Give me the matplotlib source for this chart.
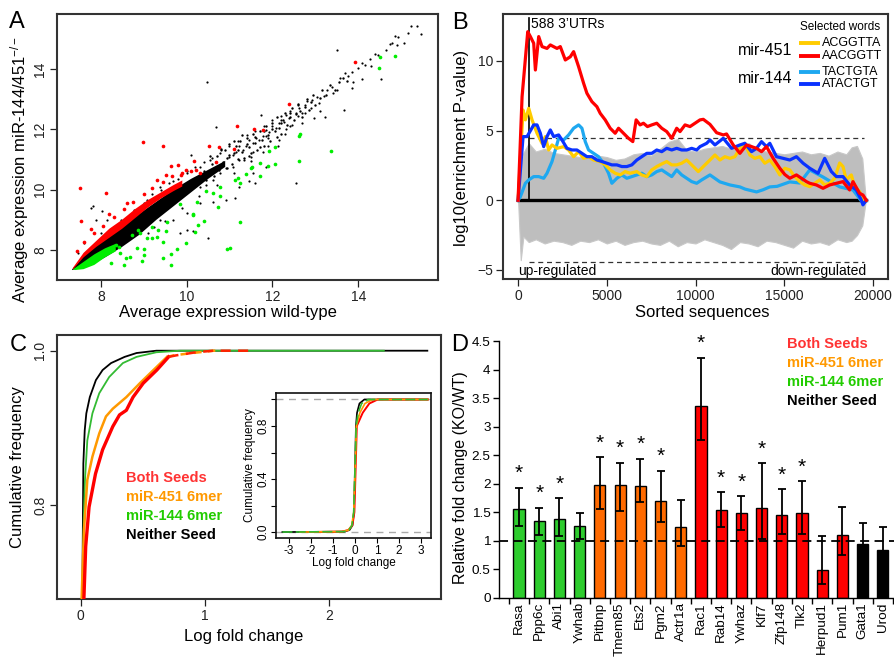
import matplotlib
matplotlib.use('Agg')
import matplotlib.pyplot as plt
import numpy as np

plt.rcParams['font.family'] = ['Liberation Sans', 'DejaVu Sans']
plt.rcParams['mathtext.fontset'] = 'custom'
plt.rcParams['mathtext.rm'] = 'Liberation Sans'
plt.rcParams['mathtext.it'] = 'Liberation Sans:italic'

W, H = 895, 661

# ---------------- Panel A data ----------------
black_core_x = [7.33, 7.7, 8.1, 8.5, 8.9, 9.3, 9.7, 10.1, 10.5, 10.9,
                10.9, 10.5, 10.1, 9.7, 9.3, 8.9, 8.5, 8.1, 7.7, 7.33]
black_core_y = [7.35, 7.95, 8.4, 8.8, 9.2, 9.6, 10.0, 10.35, 10.65, 10.95,
                10.75, 10.35, 9.9, 9.45, 9.0, 8.5, 8.1, 7.75, 7.45, 7.33]
red_core_x = [7.35, 7.6, 7.9, 8.2, 8.5, 8.8, 9.1, 9.4, 9.7, 9.9,
              9.9, 9.7, 9.4, 9.1, 8.8, 8.5, 8.2, 7.9, 7.6, 7.35]
red_core_y = [7.4, 7.9, 8.3, 8.7, 9.0, 9.35, 9.65, 9.9, 10.15, 10.3,
              10.1, 9.95, 9.7, 9.4, 9.05, 8.7, 8.4, 8.1, 7.75, 7.35]
green_core_x = [7.35, 7.6, 7.85, 8.1, 8.35, 8.35, 8.1, 7.85, 7.6, 7.4]
green_core_y = [7.35, 7.6, 7.85, 8.05, 8.2, 7.95, 7.75, 7.5, 7.36, 7.33]

black_pts_x = [15.38, 15.46, 15.22, 15.15, 15.06, 14.92, 14.85, 14.73, 14.78, 14.64, 14.54, 14.46,
               14.27, 14.15, 14.08, 14.0, 13.85, 13.77, 13.69, 13.5, 13.58, 13.38, 13.27, 13.85,
               13.67, 14.1, 13.23, 13.04, 12.92, 12.96, 12.77, 12.62, 12.69, 12.54, 12.38, 12.31,
               12.27, 12.15, 12.08, 12.0, 11.92, 11.85, 11.77, 11.73, 11.69, 11.62, 11.54, 11.46,
               11.38, 11.31, 11.23, 11.15, 11.08, 11.0, 10.68, 10.48, 12.12, 11.6, 11.12, 12.55,
               10.5, 10.11, 7.81, 8.02, 10.15, 12.15, 11.77, 11.5, 11.35, 10.92, 10.77, 10.62,
               10.46, 10.31, 11.08, 11.23, 11.54, 11.85, 12.31, 12.46, 12.77, 13.08, 13.42, 13.88,
               14.31, 10.77, 10.54, 10.31, 10.0, 9.69, 9.38, 9.08, 8.77, 8.46, 8.0, 7.62, 7.46,
               7.77, 8.15, 7.88, 10.31, 10.62, 10.0, 9.69, 9.38, 9.23, 10.0, 9.85, 10.92, 11.23,
               11.54, 11.85, 11.46, 12.2, 12.4, 12.9, 13.2, 13.5, 14.4, 14.9, 11.9, 12.6,
               9.0, 9.2, 9.4, 9.6, 9.8, 10.0, 10.2, 10.4, 10.6, 10.8, 11.0, 11.2, 11.4, 11.6,
               11.8, 12.0, 12.2, 12.4, 12.6, 12.8, 9.1, 9.5, 9.9, 10.3, 10.7, 11.1, 11.5, 11.9,
               12.3, 12.7, 13.1]
black_pts_y = [15.43, 15.15, 15.43, 15.18, 14.85, 15.07, 15.09, 14.82, 14.85, 14.63, 13.67, 14.46,
               14.32, 14.13, 14.19, 14.02, 13.91, 13.75, 13.86, 14.63, 13.69, 13.41, 13.3, 13.36,
               12.64, 13.67, 12.39, 13.08, 12.97, 12.36, 12.81, 12.7, 12.53, 12.53, 12.36, 12.48,
               12.25, 12.2, 12.03, 12.11, 11.92, 11.98, 11.76, 12.48, 11.65, 11.7, 11.54, 11.65,
               11.43, 11.31, 11.43, 11.26, 11.15, 11.09, 12.06, 13.58, 11.45, 10.23, 9.71, 10.21,
               8.38, 11.15, 9.44, 9.3, 8.61, 11.65, 11.26, 11.09, 10.98, 10.71, 10.54, 10.32,
               10.15, 10.1, 10.76, 10.98, 11.26, 11.76, 12.0, 12.14, 12.53, 12.86, 13.19, 13.58,
               14.08, 11.2, 10.98, 10.76, 10.54, 10.27, 10.1, 9.66, 9.33, 9.0, 8.55, 8.22, 7.89,
               9.38, 8.99, 8.99, 9.55, 9.6, 9.22, 8.99, 8.99, 8.77, 8.66, 8.55, 9.66, 10.1,
               10.54, 10.76, 10.27, 12.3, 12.1, 12.7, 13.1, 13.3, 14.5, 14.8, 11.7, 12.45,
               9.55, 9.85, 10.0, 10.2, 10.35, 10.6, 10.75, 10.9, 11.05, 11.3, 11.45, 11.6, 11.8,
               11.95, 12.1, 12.3, 12.45, 12.6, 12.8, 12.95, 8.55, 8.95, 9.4, 9.8, 10.15, 10.55,
               10.95, 11.45, 11.85, 12.2, 12.6]
black_band = [(10.85, 10.9), (10.9, 11.3), (10.95, 11.05), (11.0, 11.5), (11.05, 10.85),
              (11.1, 11.2), (11.15, 11.45), (11.2, 11.0), (11.25, 11.6), (11.3, 11.25),
              (11.35, 11.05), (11.4, 11.7), (11.45, 11.4), (11.5, 11.2), (11.55, 11.85),
              (11.6, 11.55), (11.65, 11.3), (11.7, 11.95), (11.75, 11.65), (11.8, 11.45),
              (11.85, 12.1), (11.9, 11.8), (11.95, 11.6), (12.0, 12.2), (12.05, 11.95),
              (12.1, 12.4), (12.15, 12.05), (12.2, 11.85), (12.25, 12.3), (12.3, 12.55),
              (12.35, 12.15), (12.4, 12.4), (12.45, 12.7), (12.5, 12.3), (12.55, 12.5),
              (12.6, 12.85), (12.65, 12.6), (12.7, 12.4), (12.75, 12.75), (12.8, 13.0),
              (12.85, 12.65), (12.9, 12.9), (12.95, 13.15), (13.0, 12.8), (13.1, 13.05),
              (13.15, 13.3), (13.25, 13.15), (13.35, 13.45), (13.45, 13.3), (13.55, 13.55),
              (13.65, 13.7), (13.75, 13.6), (10.7, 11.1), (10.75, 10.65), (10.8, 11.35),
              (10.6, 10.85), (10.65, 10.45), (10.55, 11.1), (10.4, 10.6), (10.45, 10.3),
              (11.0, 11.15), (11.2, 11.3), (11.4, 11.5), (11.6, 11.75), (11.8, 11.95),
              (12.0, 12.0), (12.2, 12.2), (12.4, 12.55), (11.1, 11.6), (11.3, 11.8),
              (10.95, 10.7), (11.45, 11.1), (11.7, 11.4), (12.1, 11.75)]

red_pts_x = [7.52, 7.54, 7.77, 8.12, 8.98, 9.45, 9.51, 9.63, 9.80, 9.98, 10.18, 10.52, 10.75,
             10.69, 11.18, 11.11, 11.56, 11.78, 12.38, 13.92, 10.31, 10.23, 9.88,
             7.45, 7.6, 7.85, 8.05, 8.3, 8.55, 8.75, 9.0, 9.2, 9.45, 9.65, 9.9, 10.1, 8.2, 8.6, 9.3]
red_pts_y = [10.04, 8.94, 8.70, 9.90, 11.59, 11.45, 10.49, 10.78, 10.81, 10.64, 10.94, 11.45, 11.41,
             10.90, 12.09, 11.36, 12.01, 11.97, 12.84, 14.24, 10.54, 10.65, 10.49,
             7.95, 8.25, 8.55, 8.8, 9.1, 9.35, 9.6, 9.85, 10.05, 10.25, 10.45, 10.55, 10.6, 9.2, 9.55, 10.3]

green_pts_x = [14.85, 14.5, 14.48, 12.65, 12.62, 13.37, 12.62, 12.06, 11.91, 12.05, 11.89, 11.72,
               11.72, 11.52, 11.38, 11.5, 11.25, 11.2, 11.13, 11.25, 11.02, 10.95, 10.79, 10.79,
               10.62, 10.46, 10.73, 10.4, 10.27, 10.19, 10.14, 10.14, 10.25, 9.98, 9.85, 9.78,
               9.64, 9.64, 9.44, 9.54, 9.52, 9.33, 9.19, 9.45, 9.19, 9.0, 9.0, 8.96, 8.85, 8.87,
               8.69, 8.58, 8.54, 8.45, 8.42, 8.35, 8.23, 8.92, 9.08, 8.73, 9.31]
green_pts_y = [14.43, 14.39, 14.02, 11.85, 11.78, 11.28, 10.93, 11.41, 11.28, 10.84, 10.78, 10.87,
               10.44, 10.76, 10.51, 10.73, 10.21, 10.38, 10.32, 8.92, 8.06, 8.03, 10.07, 9.77,
               9.88, 9.96, 9.41, 8.97, 8.83, 8.59, 9.16, 9.2, 9.59, 8.22, 9.52, 8.03,
               7.87, 7.5, 7.72, 8.91, 8.61, 8.66, 8.77, 8.25, 8.39, 8.02, 7.83, 7.64, 8.06, 8.66,
               7.75, 7.72, 7.5, 7.89, 8.11, 8.17, 7.56, 8.55, 8.39, 8.5, 8.42]

# ---------------- Panel B data ----------------
gray_x = [0, 150, 300, 600, 1000, 1500, 2000, 2500, 3000, 3500, 4000, 4500, 5000, 5500, 6000,
          6500, 7000, 7500, 8000, 8500, 9000, 9500, 10000, 10500, 11000, 11500, 12000, 12500,
          13000, 13500, 14000, 14500, 15000, 15500, 16000, 16500, 17000, 17500, 18000, 18500,
          18800, 19100, 19400, 19600]
gray_hi = [0, 2.6, 3.4, 4.1, 3.5, 3.7, 3.4, 3.3, 3.2, 3.1, 3.0, 3.2, 3.1, 2.9, 3.0, 3.3, 3.4,
           3.2, 3.7, 4.2, 4.4, 3.6, 3.5, 3.7, 3.8, 3.9, 3.7, 3.9, 4.1, 3.6, 3.5, 3.4, 3.3, 3.4,
           3.5, 3.3, 3.4, 3.2, 3.5, 3.3, 3.8, 3.9, 3.0, 0]
gray_lo = [0, -4.3, -2.6, -3.0, -2.8, -3.1, -2.9, -3.0, -3.2, -2.9, -3.0, -2.8, -3.1, -2.9, -3.2,
           -3.0, -2.9, -3.1, -3.2, -2.9, -3.3, -3.0, -3.1, -2.8, -3.0, -3.2, -3.5, -3.0, -3.1,
           -3.3, -2.9, -3.0, -3.2, -3.4, -2.9, -3.1, -3.0, -3.2, -2.8, -3.0, -2.9, -2.5, -1.8, 0]

aacggtt = [(0, 0), (225, 7.44), (544, 12.1), (693, 11.75), (880, 11.27), (975, 9.35), (1162, 11.75),
           (1350, 11.03), (1630, 10.9), (1818, 11.15), (2193, 10.9), (2380, 11.03), (2662, 10.07),
           (2943, 10.3), (3130, 10.67), (3411, 9.59), (3693, 8.4), (3880, 7.68), (4161, 7.08),
           (4442, 6.72), (4630, 6.24), (4911, 5.77), (5192, 5.17), (5473, 4.81), (5661, 5.17),
           (5942, 4.81), (6223, 4.45), (6467, 4.21), (6654, 5.77), (6879, 5.41), (7066, 5.53),
           (7291, 5.29), (7535, 5.41), (7816, 5.53), (8098, 5.17), (8379, 4.93), (8660, 4.45),
           (8941, 5.17), (9128, 4.93), (9410, 5.41), (9691, 5.29), (9972, 5.53), (10253, 5.77),
           (10440, 5.81), (10815, 5.45), (11190, 4.85), (11565, 4.69), (11752, 4.76), (12127, 3.97),
           (12502, 3.37), (12877, 3.97), (13158, 3.85), (13440, 3.73), (13721, 3.49), (14002, 3.85),
           (14377, 3.01), (14752, 2.30), (15033, 1.85), (15314, 1.58), (15689, 1.82), (15970, 1.58),
           (16251, 1.34), (16439, 1.22), (16814, 1.10), (17188, 0.86), (17563, 1.10), (17938, 1.22),
           (18313, 1.34), (18688, 0.74), (18876, 1.34), (19250, 0.50), (19438, 0.38), (19625, 0.0)]
acggtta = [(0, 0), (281, 6.48), (412, 5.77), (600, 6.6), (787, 5.77), (1068, 4.81), (1350, 4.09),
           (1537, 4.57), (1724, 3.61), (1912, 3.97), (2193, 3.73), (2568, 3.85), (2849, 3.61),
           (3130, 3.13), (3411, 3.49), (3693, 3.01), (3974, 3.13), (4255, 2.89), (4630, 2.78),
           (4911, 2.54), (5192, 2.18), (5473, 1.94), (5754, 1.82), (6036, 2.06), (6317, 1.94),
           (6692, 2.06), (6973, 1.82), (7254, 1.70), (7535, 2.18), (7816, 2.42), (8098, 2.61),
           (8379, 2.78), (8660, 2.54), (8941, 2.54), (9222, 2.66), (9503, 2.89), (9878, 2.42),
           (10159, 2.06), (10440, 2.42), (10815, 2.89), (11096, 3.25), (11377, 2.89), (11659, 3.13),
           (11940, 3.01), (12221, 3.13), (12502, 3.73), (12783, 4.09), (13064, 3.25), (13346, 3.01),
           (13627, 3.13), (13908, 2.66), (14189, 2.89), (14471, 2.42), (14752, 1.82), (15033, 2.30),
           (15314, 2.18), (15595, 1.70), (15877, 1.34), (16158, 1.10), (16439, 0.98), (16720, 1.22),
           (17001, 1.46), (17282, 1.10), (17564, 1.22), (17845, 1.58), (18126, 2.68), (18313, 2.42),
           (18501, 1.46), (18782, 1.82), (18969, 0.98), (19250, 0.62), (19438, 0.02), (19625, 0.0)]
tactgta = [(0, 0), (131, 0.26), (412, 1.22), (600, 1.46), (880, 1.70), (1162, 1.70), (1443, 1.58),
           (1630, 1.94), (1912, 2.78), (2099, 3.61), (2287, 4.45), (2568, 4.33), (2849, 4.69),
           (3130, 5.17), (3411, 5.41), (3599, 5.17), (3786, 4.21), (3974, 3.61), (4255, 3.37),
           (4536, 3.13), (4817, 2.66), (5098, 1.94), (5286, 1.22), (5567, 1.58), (5848, 1.82),
           (6129, 1.58), (6410, 1.70), (6692, 1.82), (6973, 1.94), (7254, 1.70), (7535, 1.82),
           (7816, 2.06), (8098, 2.18), (8379, 1.94), (8660, 1.70), (8941, 2.18), (9222, 1.82),
           (9503, 1.58), (9785, 1.34), (10066, 1.22), (10347, 1.46), (10815, 1.82), (11377, 1.32),
           (11940, 1.10), (12502, 0.96), (12800, 0.80), (13440, 0.60), (13800, 0.75), (14189, 0.96),
           (14600, 1.00), (15314, 1.32), (15877, 1.24), (16439, 2.18), (17188, 1.67), (18126, 0.96),
           (18876, 0.74), (19438, -0.2), (19625, 0.0)]
atactgt = [(0, 0), (281, 4.57), (506, 4.57), (880, 5.41), (1068, 5.41), (1256, 4.81), (1443, 3.85),
           (1630, 4.57), (1818, 5.05), (2006, 4.57), (2287, 4.69), (2474, 4.33), (2755, 3.73),
           (3037, 3.61), (3318, 3.61), (3599, 3.37), (3880, 3.13), (4161, 3.13), (4442, 2.89),
           (4724, 2.78), (5005, 2.66), (5286, 2.54), (5567, 2.54), (5848, 2.42), (6129, 2.42),
           (6410, 2.54), (6692, 2.89), (6973, 3.13), (7254, 3.37), (7535, 3.37), (7816, 3.61),
           (8098, 3.49), (8379, 3.73), (8660, 3.61), (8941, 3.73), (9222, 3.61), (9503, 3.61),
           (9785, 3.73), (10066, 3.61), (10253, 3.85), (10628, 4.09), (10815, 4.33), (11096, 3.97),
           (11565, 4.45), (12033, 3.73), (12502, 3.97), (12783, 4.09), (13158, 3.49), (13440, 3.73),
           (13721, 4.21), (14002, 3.85), (14189, 4.09), (14564, 3.13), (14939, 3.01), (15314, 2.89),
           (15689, 3.13), (16064, 2.66), (16439, 2.30), (16907, 1.94), (17282, 3.01), (17657, 2.06),
           (17938, 1.70), (18313, 1.70), (18688, 1.10), (19063, 0.74), (19344, 0.02), (19438, -0.33),
           (19625, 0.0)]
word_labels = ['ACGGTTA', 'AACGGTT', 'TACTGTA', 'ATACTGT']
word_colors = ['#FFCC00', '#FF0000', '#1EA8F0', '#0A32FF']
n_utrs = 588
thresh = 4.45

# ---------------- Panel C data ----------------
neither_x = [0.012, 0.014, 0.022, 0.033, 0.046, 0.074, 0.123, 0.177, 0.245, 0.354, 0.45, 0.61, 2.79]
neither_y = [0.67, 0.682, 0.854, 0.897, 0.919, 0.94, 0.962, 0.975, 0.984, 0.992, 0.997, 1.0, 1.0]
mir144_x = [0.014, 0.016, 0.025, 0.035, 0.054, 0.095, 0.15, 0.23, 0.34, 0.45, 0.61, 0.8, 2.44]
mir144_y = [0.67, 0.69, 0.78, 0.833, 0.884, 0.919, 0.945, 0.966, 0.984, 0.992, 0.998, 1.0, 1.0]
mir451_x = [0.006, 0.027, 0.054, 0.095, 0.15, 0.204, 0.259, 0.368, 0.477, 0.586, 0.695]
mir451_y = [0.67, 0.768, 0.833, 0.863, 0.893, 0.915, 0.925, 0.94, 0.958, 0.975, 0.992]
mir451_tail_x = [0.695, 0.75, 0.9, 1.07, 1.12]
mir451_tail_y = [0.992, 0.994, 0.997, 1.0, 1.0]
both_x = [0.024, 0.027, 0.041, 0.068, 0.12, 0.177, 0.259, 0.313, 0.368, 0.422, 0.504, 0.613, 0.708]
both_y = [0.67, 0.682, 0.747, 0.798, 0.841, 0.872, 0.902, 0.917, 0.923, 0.94, 0.958, 0.975, 0.992]
both_tail_x = [0.708, 0.77, 0.93, 1.07, 1.36]
both_tail_y = [0.992, 0.994, 0.998, 1.0, 1.0]

inset_neither_x = [-3.3, -0.5, -0.25, -0.12, -0.05, 0.0, 0.04, 0.09, 0.2, 0.42, 3.3]
inset_144_x = [-3.3, -0.5, -0.28, -0.14, -0.06, 0.0, 0.05, 0.14, 0.3, 0.6, 3.3]
inset_451_x = [-2.5, -0.6, -0.3, -0.15, -0.06, 0.01, 0.06, 0.22, 0.45, 0.8, 3.3]
inset_both_x = [-2.0, -0.6, -0.3, -0.12, -0.03, 0.03, 0.08, 0.35, 0.65, 1.03, 3.3]
inset_y = [0.0, 0.003, 0.015, 0.05, 0.15, 0.5, 0.8, 0.9, 0.97, 1.0, 1.0]
inset_xticks = [-3, -2, -1, 0, 1, 2, 3]
inset_xticklabels = ['-3', '-2', '-1', '0', '1', '2', '3']

group_names = ['Both Seeds', 'miR-451 6mer', 'miR-144 6mer', 'Neither Seed']
group_text_colors = ['#FF3333', '#FF9900', '#22CC00', '#000000']

# ---------------- Panel D data ----------------
genes = ['Rasa', 'Ppp6c', 'Abi1', 'Ywhab', 'Pitbnp', 'Tmem85', 'Ets2', 'Pgm2', 'Actr1a', 'Rac1',
         'Rab14', 'Ywhaz', 'Klf7', 'Zfp148', 'Tlk2', 'Herpud1', 'Pum1', 'Gata1', 'Urod']
fold = [1.566, 1.34, 1.385, 1.26, 1.98, 1.97, 1.96, 1.70, 1.25, 3.37,
        1.54, 1.49, 1.57, 1.46, 1.48, 0.495, 1.106, 0.95, 0.84]
err_hi = [1.93, 1.58, 1.75, 1.48, 2.47, 2.37, 2.44, 2.23, 1.71, 4.21,
          1.85, 1.78, 2.36, 1.90, 2.04, 1.09, 1.60, 1.32, 1.24]
err_lo = [1.26, 1.10, 1.08, 1.04, 1.56, 1.52, 1.68, 1.33, 0.91, 2.76,
          1.24, 1.19, 1.04, 1.12, 1.12, 0.24, 0.76, 0.63, 0.51]
seed_group = ['144'] * 4 + ['451'] * 5 + ['both'] * 8 + ['neither'] * 2
significant = [1, 1, 1, 0, 1, 1, 1, 1, 0, 1, 1, 1, 1, 1, 1, 0, 0, 0, 0]
bar_colors = {'144': '#2ECC2E', '451': '#FF6A00', 'both': '#FF0000', 'neither': '#000000'}

# =====================================================================
fig = plt.figure(figsize=(W / 100, H / 100), dpi=100)


def rect(l, t, r, b):
    return [l / W, 1 - b / H, (r - l) / W, (b - t) / H]


def box_style(ax, lw=1.5, color='#333333'):
    for s in ax.spines.values():
        s.set_linewidth(lw)
        s.set_color(color)
    ax.tick_params(direction='out', length=5, width=0.9, labelsize=10, pad=2, colors='#222222')


# ---------------- Panel A ----------------
axA = fig.add_axes(rect(57, 14, 438, 280))
axA.fill(black_core_x, black_core_y, color='black', lw=0, zorder=2)
axA.scatter(black_pts_x, black_pts_y, s=2.5, c='black', lw=0, zorder=2)
axA.scatter([p[0] for p in black_band], [p[1] for p in black_band], s=3, c='black', lw=0, zorder=2)
axA.fill(red_core_x, red_core_y, color='#FF0000', lw=0, zorder=3)
axA.fill(green_core_x, green_core_y, color='#00EE00', lw=0, zorder=3)
axA.scatter(red_pts_x, red_pts_y, s=7, c='#FF0000', lw=0, zorder=4)
axA.scatter(green_pts_x, green_pts_y, s=7, c='#00EE00', lw=0, zorder=4)
axA.set_xlim(6.98, 15.86)
axA.set_ylim(7.0, 15.82)
axA.set_xticks([8, 10, 12, 14])
axA.set_yticks([8, 10, 12, 14])
box_style(axA)
for lab in axA.get_yticklabels():
    lab.set_rotation(90)
    lab.set_va('center')
fig.text(228 / W, 1 - 313 / H, 'Average expression wild-type', ha='center', va='center', fontsize=12)
fig.text(20 / W, 1 - 169 / H, r'Average expression miR-144/451$^{\mathrm{-/-}}$', ha='center',
         va='center', rotation=90, fontsize=12)

# ---------------- Panel B ----------------
axB = fig.add_axes(rect(503, 14, 888, 279))
axB.fill_between(gray_x, gray_lo, gray_hi, color='#BEBEBE', lw=0.8, edgecolor='#C8C8C8', zorder=1)
axB.plot([0, 19600], [0, 0], color='black', lw=2.4, zorder=3)
axB.plot([n_utrs, 19500], [thresh, thresh], color='#333333', lw=0.9, ls=(0, (4, 3)), zorder=3)
axB.plot([n_utrs, 19500], [-thresh, -thresh], color='#333333', lw=0.9, ls=(0, (4, 3)), zorder=3)
axB.plot([n_utrs, n_utrs], [0, 13.1], color='black', lw=1.2, zorder=3)
order = [(tactgta, word_colors[2]), (acggtta, word_colors[0]), (atactgt, word_colors[3]),
         (aacggtt, word_colors[1])]
for series, col in order:
    xs = [p[0] for p in series]
    ys = [p[1] for p in series]
    axB.plot(xs, ys, color=col, lw=2.3, zorder=4, solid_joinstyle='round')
axB.set_xlim(-850, 20850)
axB.set_ylim(-5.65, 13.37)
axB.set_xticks([0, 5000, 10000, 15000, 20000])
axB.set_yticks([-5, 0, 5, 10])
box_style(axB)
axB.text(n_utrs + 120, 12.65, '588 3\u2019UTRs', fontsize=10, va='center', ha='left')
axB.text(0.039, 0.032, 'up-regulated', transform=axB.transAxes, fontsize=10, va='center', ha='left')
axB.text(0.945, 0.032, 'down-regulated', transform=axB.transAxes, fontsize=10, va='center',
         ha='right')
# legend
axB.text(0.979, 0.951, 'Selected words', transform=axB.transAxes, fontsize=8.5, ha='right',
         va='center')
leg_y = [0.891, 0.842, 0.781, 0.736]
for yy, lab, col in zip(leg_y, word_labels, word_colors):
    axB.plot([0.769, 0.823], [yy, yy], color=col, lw=2.8, transform=axB.transAxes, zorder=5,
             solid_capstyle='butt')
    axB.text(0.829, yy, lab, transform=axB.transAxes, fontsize=9, ha='left', va='center')
axB.text(0.752, 0.864, 'mir-451', transform=axB.transAxes, fontsize=11.5, ha='right', va='center')
axB.text(0.752, 0.757, 'mir-144', transform=axB.transAxes, fontsize=11.5, ha='right', va='center')
fig.text(702 / W, 1 - 313 / H, 'Sorted sequences', ha='center', va='center', fontsize=12)
fig.text(462 / W, 1 - 148 / H, 'log10(enrichment P-value)', ha='center', va='center', rotation=90,
         fontsize=12)

# ---------------- Panel C ----------------
axC = fig.add_axes(rect(57, 335, 441, 599))
axC.plot(neither_x, neither_y, color='black', lw=1.3, zorder=3)
axC.plot(mir144_x, mir144_y, color='#33BB33', lw=1.3, zorder=4)
axC.plot(mir451_x, mir451_y, color='#FF9900', lw=1.8, zorder=5)
axC.plot(mir451_tail_x, mir451_tail_y, color='#FF9900', lw=1.8, ls=(0, (3, 2.5)), zorder=5)
axC.plot(both_x, both_y, color='#FF0000', lw=2.4, zorder=6)
axC.plot(both_tail_x, both_tail_y, color='#FF2200', lw=1.8, ls=(0, (4, 3)), zorder=6)
axC.set_xlim(-0.19, 2.90)
axC.set_ylim(0.679, 1.0203)
axC.set_xticks([0, 1, 2])
axC.set_yticks([0.8, 1.0])
axC.set_yticklabels(['0.8', '1.0'])
box_style(axC)
for lab in axC.get_yticklabels():
    lab.set_rotation(90)
    lab.set_va('center')
for i, (nm, col) in enumerate(zip(group_names, group_text_colors)):
    fig.text(126 / W, 1 - (478 + 19 * i) / H, nm, color=col, fontsize=10.5, fontweight='bold',
             ha='left', va='center')
fig.text(244 / W, 1 - 636 / H, 'Log fold change', ha='center', va='center', fontsize=12)
fig.text(18 / W, 1 - 467 / H, 'Cumulative frequency', ha='center', va='center', rotation=90,
         fontsize=12)

# inset
axI = fig.add_axes(rect(276, 393, 431, 538))
axI.axhline(0, color='#AAAAAA', lw=1.0, ls=(0, (5, 4)), zorder=1)
axI.axhline(1, color='#AAAAAA', lw=1.0, ls=(0, (5, 4)), zorder=1)
axI.plot(inset_neither_x, inset_y, color='black', lw=1.2, zorder=3)
axI.plot(inset_both_x, inset_y, color='#FF0000', lw=1.4, zorder=4)
axI.plot(inset_451_x, inset_y, color='#FF9900', lw=1.2, zorder=5)
axI.plot(inset_144_x, inset_y, color='#33BB33', lw=1.2, ls=(0, (6, 2)), zorder=6)
axI.set_xlim(-3.59, 3.45)
axI.set_ylim(-0.045, 1.049)
axI.set_xticks(inset_xticks)
axI.set_xticklabels(inset_xticklabels)
axI.set_yticks([0.0, 0.2, 0.4, 0.6, 0.8, 1.0])
axI.set_yticklabels(['0.0', '', '0.4', '', '0.8', ''])
for s in axI.spines.values():
    s.set_linewidth(1.2)
    s.set_color('#111111')
axI.tick_params(direction='out', length=3.5, width=0.8, labelsize=8.5, pad=1.5)
for lab in axI.get_yticklabels():
    lab.set_rotation(90)
    lab.set_va('center')
axI.set_xlabel('Log fold change', fontsize=8.5, labelpad=0)
axI.set_ylabel('Cumulative frequency', fontsize=8.5, labelpad=1)

# ---------------- Panel D ----------------
axD = fig.add_axes([499 / W, 1 - 598 / H, (895 - 499) / W, (598 - 341) / H])
xpos = np.arange(len(genes))
cols = [bar_colors[g] for g in seed_group]
axD.bar(xpos, fold, width=0.55, color=cols, edgecolor='black', linewidth=1.0, zorder=2)
yerr = [np.array(fold) - np.array(err_lo), np.array(err_hi) - np.array(fold)]
axD.errorbar(xpos, fold, yerr=yerr, fmt='none', ecolor='black', elinewidth=1.3, capsize=3,
             capthick=1.3, zorder=3)
axD.plot([-0.99, 18.6], [1, 1], color='black', lw=1.3, ls=(0, (5, 3)), zorder=4)
for x, top, sig in zip(xpos, err_hi, significant):
    if sig:
        axD.text(x, top + 0.08, '*', ha='center', va='bottom', fontsize=15)
axD.set_xlim(-0.99, 18.6)
axD.set_ylim(0, 4.5)
axD.set_yticks(np.arange(0, 4.51, 0.5))
axD.set_yticklabels(['0', '0.5', '1', '1.5', '2', '2.5', '3', '3.5', '4', '4.5'])
axD.set_xticks(xpos)
axD.set_xticklabels(genes, rotation=90, fontsize=9.7)
axD.set_xticks(np.arange(len(genes) + 1) - 0.5, minor=True)
axD.tick_params(axis='x', which='major', length=0, pad=3)
axD.tick_params(axis='x', which='minor', length=4, width=1, direction='out')
axD.tick_params(axis='y', length=4, width=1, direction='out', labelsize=9.7, pad=2)
axD.spines['top'].set_visible(False)
axD.spines['right'].set_visible(False)
axD.spines['left'].set_linewidth(1.0)
axD.spines['bottom'].set_linewidth(1.0)
for i, (nm, col) in enumerate(zip(group_names, group_text_colors)):
    fig.text(787 / W, 1 - (344 + 19 * i) / H, nm, color=col, fontsize=10.5, fontweight='bold',
             ha='left', va='center')
fig.text(461 / W, 1 - 478 / H, 'Relative fold change (KO/WT)', ha='center', va='center',
         rotation=90, fontsize=11.5)

# panel letters
for lt, x, y in [('A', 17, 22), ('B', 460, 23), ('C', 18, 345), ('D', 460, 345)]:
    fig.text(x / W, 1 - y / H, lt, fontsize=17, ha='center', va='center')

fig.savefig('out.png', dpi=100)
